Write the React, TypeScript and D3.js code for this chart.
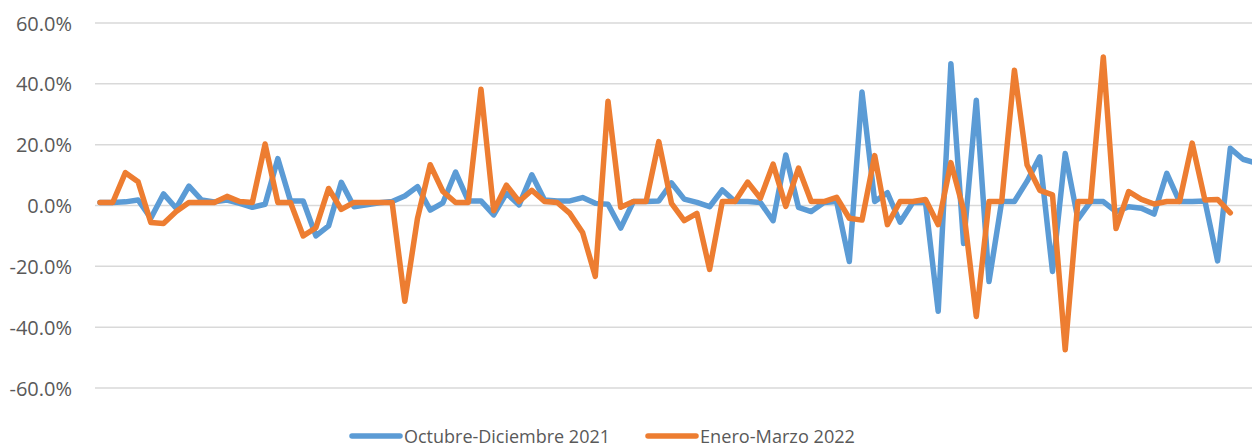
import * as d3 from "d3";
import { useEffect, useRef } from "react";

// % change per period
const octDic2021 = [
  1.0, 1.0, 1.2, 1.8, -4.2, 3.8, -0.9, 6.4, 1.8, 1.2, 1.8, 0.7, -0.6, 0.4, 15.4,
  1.5, 1.5, -10.0, -6.7, 7.6, -0.4, 0.2, 0.9, 1.3, 3.1, 6.2, -1.5, 0.9, 11.0,
  1.5, 1.5, -3.1, 4.0, 0.2, 10.1, 1.8, 1.5, 1.5, 2.6, 0.7, 0.4, -7.4, 1.3, 1.3,
  1.5, 7.4, 2.1, 1.0, -0.4, 5.1, 1.3, 1.3, 1.0, -5.0, 16.6, -0.6, -2.0, 1.0, 1.3,
  -18.4, 37.3, 1.3, 4.2, -5.5, 1.0, 1.0, -34.8, 46.6, -12.5, 34.6, -25.0, 1.3,
  1.3, 8.0, 16.0, -21.7, 17.1, -4.5, 1.3, 1.3, -2.0, -0.4, -0.9, -2.8, 10.6, 1.3,
  1.3, 1.5, -18.2, 18.8, 15.2, 14.0,
];

const eneMar2022 = [
  1.0, 1.0, 10.8, 7.8, -5.6, -5.9, -2.0, 1.0, 1.0, 1.0, 3.0, 1.3, 1.0, 20.2, 1.0,
  1.0, -10.0, -7.3, 5.6, -1.3, 1.0, 1.0, 1.0, 1.0, -31.5, -4.2, 13.4, 4.6, 1.0,
  1.0, 38.2, -1.7, 6.7, 1.3, 5.0, 1.3, 1.0, -2.6, -8.9, -23.3, 34.3, -0.6, 1.3,
  1.3, 21.0, 0.7, -5.0, -2.6, -21.0, 1.3, 1.3, 7.7, 2.4, 13.6, -0.3, 12.3, 1.3,
  1.3, 2.7, -4.2, -4.8, 16.4, -6.3, 1.3, 1.3, 2.0, -6.3, 14.1, -1.5, -36.5, 1.3,
  1.3, 44.5, 13.3, 5.0, 3.5, -47.4, 1.3, 1.3, 48.8, -7.6, 4.6, 2.0, 0.5, 1.3, 1.3,
  20.5, 1.8, 2.0, -2.4,
];

const yTicks = [-60, -40, -20, 0, 20, 40, 60];

const seriesNames = ["Octubre-Diciembre 2021", "Enero-Marzo 2022"];
const seriesColors = ["#5B9BD5", "#ED7D31"];

const width = 1252;
const height = 448;
const font = "'Open Sans', 'Liberation Sans', sans-serif";

export default function App() {
  const ref = useRef<SVGSVGElement>(null);

  useEffect(() => {
    const svg = d3.select(ref.current);
    svg.selectAll("*").remove();

    const x = d3.scaleLinear([0, 91], [100, 100 + 91 * 12.7]);
    const y = d3.scaleLinear([-60, 60], [388, 23]);

    // gridlines + labels
    svg
      .append("g")
      .selectAll("line")
      .data(yTicks)
      .join("line")
      .attr("x1", 95)
      .attr("x2", width)
      .attr("y1", (d) => y(d))
      .attr("y2", (d) => y(d))
      .attr("stroke", "#D9D9D9")
      .attr("stroke-width", 1.5);

    svg
      .append("g")
      .selectAll("text")
      .data(yTicks)
      .join("text")
      .attr("x", 72)
      .attr("y", (d) => y(d))
      .attr("text-anchor", "end")
      .attr("dominant-baseline", "central")
      .attr("font-family", font)
      .attr("font-size", 20)
      .attr("fill", "#595959")
      .text((d) => d.toFixed(1) + "%");

    const line = d3
      .line<number>()
      .x((_, i) => x(i))
      .y((d) => y(d));

    [octDic2021, eneMar2022].forEach((data, k) => {
      svg
        .append("path")
        .attr("d", line(data))
        .attr("fill", "none")
        .attr("stroke", seriesColors[k])
        .attr("stroke-width", 5.5)
        .attr("stroke-linejoin", "round")
        .attr("stroke-linecap", "round");
    });

    // legend
    const legendX = [352, 648];
    const legendW = [206, 155];
    const leg = svg
      .append("g")
      .selectAll("g")
      .data(seriesNames)
      .join("g")
      .attr("transform", (_, i) => `translate(${legendX[i]}, 436)`);
    leg
      .append("line")
      .attr("x1", 0)
      .attr("x2", 48)
      .attr("stroke", (_, i) => seriesColors[i])
      .attr("stroke-width", 5.5)
      .attr("stroke-linecap", "round");
    leg
      .append("text")
      .attr("x", 52)
      .attr("dominant-baseline", "central")
      .attr("font-family", font)
      .attr("font-size", 19)
      .attr("textLength", (_, i) => legendW[i])
      .attr("lengthAdjust", "spacingAndGlyphs")
      .attr("fill", "#595959")
      .text((d) => d);
  }, []);

  return (
    <svg
      ref={ref}
      width={width}
      height={height}
      style={{ position: "absolute", left: 0, top: 0, background: "#fff" }}
    />
  );
}
